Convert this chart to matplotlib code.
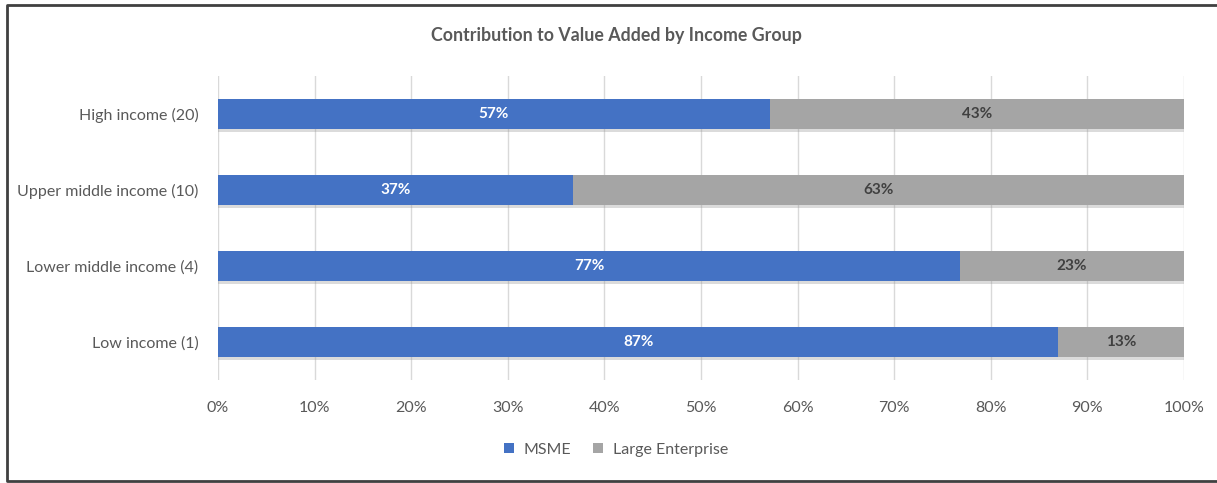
import matplotlib.pyplot as plt
import matplotlib.patheffects as pe
from matplotlib.patches import Patch
from matplotlib.lines import Line2D
import numpy as np

# data (bottom to top)
groups = ['Low income (1)', 'Lower middle income (4)', 'Upper middle income (10)', 'High income (20)']
msme = [87.0, 76.8, 36.7, 57.1]
large = [13.0, 23.2, 63.3, 42.9]
xticks = [0, 10, 20, 30, 40, 50, 60, 70, 80, 90, 100]

plt.rcParams['font.family'] = ['Lato', 'DejaVu Sans']

fig = plt.figure(figsize=(12.17, 4.83), dpi=100)
ax = fig.add_axes([218 / 1217, 1 - 380 / 483, 966 / 1217, 304 / 483])

y = np.arange(len(groups))
shadow = [pe.SimplePatchShadow(offset=(0, -2), shadow_rgbFace='#999999', alpha=0.35), pe.Normal()]
b1 = ax.barh(y, msme, height=0.4, color='#4472C4', zorder=3)
b2 = ax.barh(y, large, left=msme, height=0.4, color='#A5A5A5', zorder=3)
for b in list(b1) + list(b2):
    b.set_path_effects(shadow)

for i in range(len(groups)):
    ax.text(msme[i] / 2, y[i], '%d%%' % round(msme[i]), ha='center', va='center',
            color='white', fontsize=11, fontweight='bold', zorder=4)
    ax.text(msme[i] + large[i] / 2, y[i], '%d%%' % round(large[i]), ha='center', va='center',
            color='#404040', fontsize=11, fontweight='bold', zorder=4)

ax.set_xlim(0, 100)
ax.set_ylim(-0.5, 3.5)
ax.set_xticks(xticks)
ax.set_xticklabels(['%d%%' % t for t in xticks])
ax.set_yticks(y)
ax.set_yticklabels(groups)
ax.tick_params(axis='both', length=0, labelsize=11.5, labelcolor='#595959')
ax.tick_params(axis='x', pad=15)
ax.tick_params(axis='y', pad=14)
ax.grid(axis='x', color='#D9D9D9', linewidth=1, zorder=0)
for s in ax.spines.values():
    s.set_visible(False)

fig.text(616 / 1217, 1 - 35 / 483, 'Contribution to Value Added by Income Group', ha='center', va='center',
         fontsize=12.8, fontweight='bold', color='#595959')

handles = [Patch(facecolor='#4472C4', label='MSME'), Patch(facecolor='#A5A5A5', label='Large Enterprise')]
leg = fig.legend(handles=handles, loc='center', bbox_to_anchor=(616 / 1217, 1 - 450 / 483), ncol=2,
                 frameon=False, fontsize=11.5, handlelength=0.6, handleheight=0.6, columnspacing=1.4,
                 handletextpad=0.6)
for t in leg.get_texts():
    t.set_color('#595959')

# frame on top, left and bottom only
bx = [1216 / 1217, 6.5 / 1217, 6.5 / 1217, 1216 / 1217]
by = [1 - 5 / 483, 1 - 5 / 483, 1 - 481 / 483, 1 - 481 / 483]
fig.lines.append(Line2D(bx, by, transform=fig.transFigure, color='#404040', linewidth=2, figure=fig))

fig.savefig('out.png', dpi=100)
